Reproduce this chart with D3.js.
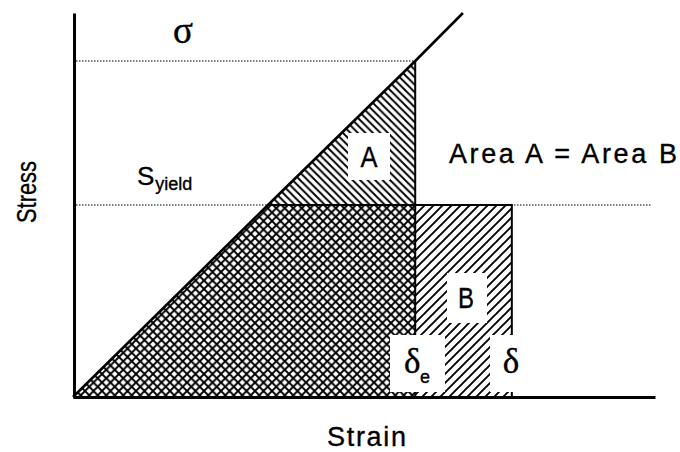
<!DOCTYPE html>
<html>
<head>
<meta charset="utf-8">
<script src="https://cdn.jsdelivr.net/npm/d3@7"></script>
<style>
  body { margin: 0; background: #fff; }
  svg { display: block; }
  .lbl { font-family: "Liberation Sans", Arial, sans-serif; fill: #000; stroke: #000; stroke-width: 0.35; }
  .greek { font-family: "Liberation Serif", "Times New Roman", serif; fill: #000; stroke: #000; stroke-width: 0.4; }
</style>
</head>
<body>
<script>
// Define SVG area dimensions
var svgWidth = 680;
var svgHeight = 452;

// Stress-strain curve (elastic line), in arbitrary units
var strainPts = [0, 3.35, 5.88, 6.70];
var stressPts = [0, 5.0, 8.75, 10.0];

// Key levels
var sYield = 5.0;      // yield stress
var sigma = 8.75;      // elastic stress
var deltaE = 5.88;     // elastic strain
var delta = 7.54;      // plastic strain (equal area)
var yieldStrain = 3.35;

// Axis extents
var strainMax = 10;
var stressMax = 10;

var svg = d3.select("body")
  .append("svg")
  .attr("width", svgWidth)
  .attr("height", svgHeight);

var xScale = d3.scaleLinear().domain([0, strainMax]).range([73, 655]);
var yScale = d3.scaleLinear().domain([0, stressMax]).range([397, 13]);

// hatch patterns
var defs = svg.append("defs");

function pattern(id, size, dirs, sw) {
  var p = defs.append("pattern")
    .attr("id", id)
    .attr("patternUnits", "userSpaceOnUse")
    .attr("width", size)
    .attr("height", size);
  var s = size;
  if (dirs.indexOf("\\") >= 0) {
    p.append("path")
      .attr("d", `M0,0L${s},${s}M${-2},${s - 2}L2,${s + 2}M${s - 2},-2L${s + 2},2`)
      .attr("stroke", "#000").attr("stroke-width", sw);
  }
  if (dirs.indexOf("/") >= 0) {
    p.append("path")
      .attr("d", `M0,${s}L${s},0M-2,2L2,-2M${s - 2},${s + 2}L${s + 2},${s - 2}`)
      .attr("stroke", "#000").attr("stroke-width", sw);
  }
}
pattern("cross", 8.5, "\\/", 1.9);
pattern("hatchA", 7.5, "\\", 1.9);
pattern("hatchB", 9, "/", 1.9);

var line = d3.line()
  .x(d => xScale(d[0]))
  .y(d => yScale(d[1]));

// crosshatched region: elastic energy below yield
svg.append("path")
  .datum([[0, 0], [yieldStrain, sYield], [deltaE, sYield], [deltaE, 0]])
  .attr("d", d => line(d) + "Z")
  .attr("fill", "url(#cross)");

// Area A
svg.append("path")
  .datum([[yieldStrain, sYield], [deltaE, sigma], [deltaE, sYield]])
  .attr("d", d => line(d) + "Z")
  .attr("fill", "url(#hatchA)");

// Area B
svg.append("rect")
  .attr("x", xScale(deltaE))
  .attr("y", yScale(sYield))
  .attr("width", xScale(delta) - xScale(deltaE))
  .attr("height", yScale(0) - yScale(sYield))
  .attr("fill", "url(#hatchB)");

// dotted reference lines
svg.append("line")
  .attr("x1", xScale(0) + 3).attr("x2", xScale(deltaE))
  .attr("y1", yScale(sigma)).attr("y2", yScale(sigma))
  .attr("stroke", "#000").attr("stroke-width", 1.2)
  .attr("stroke-dasharray", "1.5,1.5");

svg.append("line")
  .attr("x1", xScale(0) + 3).attr("x2", xScale(9.95))
  .attr("y1", yScale(sYield)).attr("y2", yScale(sYield))
  .attr("stroke", "#000").attr("stroke-width", 1.2)
  .attr("stroke-dasharray", "1.5,1.5");

// solid borders
svg.append("path")
  .datum([[yieldStrain, sYield], [delta, sYield], [delta, 0]])
  .attr("d", line)
  .attr("fill", "none").attr("stroke", "#000").attr("stroke-width", 2);

svg.append("path")
  .datum([[deltaE, sigma], [deltaE, 0]])
  .attr("d", line)
  .attr("fill", "none").attr("stroke", "#000").attr("stroke-width", 2);

// elastic line
svg.append("path")
  .datum(strainPts.map((s, i) => [s, stressPts[i]]))
  .attr("d", line)
  .attr("fill", "none").attr("stroke", "#000").attr("stroke-width", 2.6);

// axes, no ticks
var xAxis = d3.axisBottom(xScale).tickValues([]).tickSizeOuter(0);
var yAxis = d3.axisLeft(yScale).tickValues([]).tickSizeOuter(0);

svg.append("g")
  .attr("transform", `translate(0, ${yScale(0)})`)
  .call(xAxis)
  .select(".domain").attr("stroke-width", 2.8);

svg.append("g")
  .attr("transform", `translate(${xScale(0) + 1}, 0)`)
  .call(yAxis)
  .select(".domain").attr("stroke-width", 3);

// white boxes behind labels
function box(x0, y0, x1, y1) {
  svg.append("rect")
    .attr("x", x0).attr("y", y0)
    .attr("width", x1 - x0).attr("height", y1 - y0)
    .attr("fill", "#fff");
}
box(348, 133, 390, 180);
box(447, 273, 487, 323);
box(390, 335, 445, 392);
box(490, 335, 540, 392);

// labels
svg.append("text").attr("class", "lbl")
  .attr("x", 369).attr("y", 167)
  .attr("text-anchor", "middle")
  .attr("font-size", 30)
  .attr("textLength", 17).attr("lengthAdjust", "spacingAndGlyphs")
  .text("A");

svg.append("text").attr("class", "lbl")
  .attr("x", 466).attr("y", 308)
  .attr("text-anchor", "middle")
  .attr("font-size", 29)
  .attr("textLength", 16).attr("lengthAdjust", "spacingAndGlyphs")
  .text("B");

svg.append("text").attr("class", "lbl")
  .attr("x", 449).attr("y", 163)
  .attr("font-size", 27)
  .attr("textLength", 228).attr("lengthAdjust", "spacing")
  .text("Area A = Area B");

svg.append("text").attr("class", "greek")
  .attr("x", 183).attr("y", 43)
  .attr("text-anchor", "middle")
  .attr("font-size", 37)
  .text("σ");

var sy = svg.append("text").attr("class", "lbl")
  .attr("x", 137).attr("y", 185);
sy.append("tspan").attr("font-size", 26).text("S");
sy.append("tspan").attr("font-size", 18).attr("dx", 1).attr("dy", 5).text("yield");

svg.append("text").attr("class", "greek")
  .attr("x", 404).attr("y", 373)
  .attr("font-size", 35)
  .text("δ");
svg.append("text").attr("class", "lbl")
  .attr("x", 420).attr("y", 383)
  .attr("font-size", 18)
  .text("e");

svg.append("text").attr("class", "greek")
  .attr("x", 511).attr("y", 373)
  .attr("text-anchor", "middle")
  .attr("font-size", 35)
  .text("δ");

// axis titles
svg.append("text").attr("class", "lbl")
  .attr("x", 327).attr("y", 446)
  .attr("font-size", 27)
  .attr("textLength", 79).attr("lengthAdjust", "spacing")
  .text("Strain");

svg.append("text").attr("class", "lbl")
  .attr("transform", "translate(36, 192) rotate(-90)")
  .attr("text-anchor", "middle")
  .attr("font-size", 28)
  .attr("textLength", 62).attr("lengthAdjust", "spacingAndGlyphs")
  .text("Stress");
</script>
</body>
</html>
